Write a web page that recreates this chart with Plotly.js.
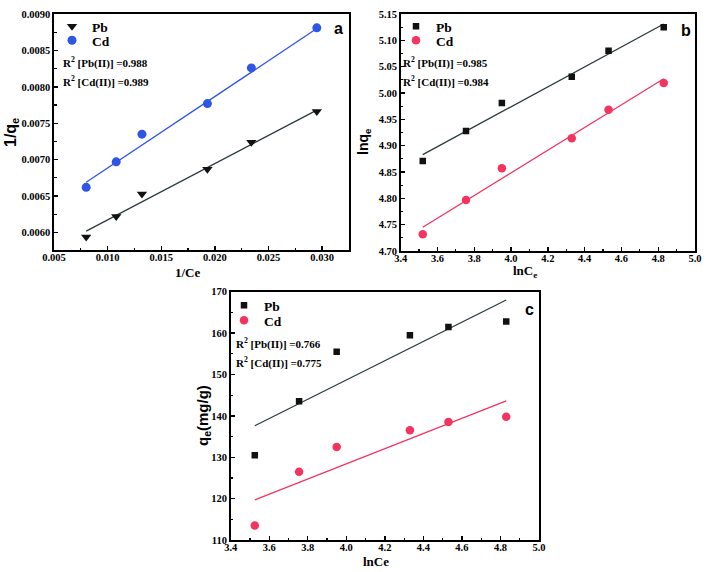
<!DOCTYPE html>
<html>
<head>
<meta charset="utf-8">
<script src="https://cdn.plot.ly/plotly-3.0.1.min.js"></script>
<style>html,body{margin:0;padding:0;background:#fff;}#chart{width:709px;height:572px;}</style>
</head>
<body>
<div id="chart"></div>
<script>
// ---- Panel a: 1/qe vs 1/Ce ----
const aX = [0.0080, 0.0108, 0.0132, 0.0193, 0.0234, 0.0295];
const aPb = [0.00594, 0.00622, 0.00653, 0.00687, 0.00724, 0.00766];
const aCd = [0.00662, 0.00697, 0.00735, 0.00777, 0.00826, 0.00881];
const aFitX = [0.0080, 0.0295];
const aPbFit = [0.00602, 0.00768];
const aCdFit = [0.00669, 0.00880];
const aR2 = ["0.988", "0.989"];

// ---- Panel b: lnqe vs lnCe ----
const bX = [3.52, 3.755, 3.95, 4.33, 4.53, 4.83];
const bPb = [4.871, 4.928, 4.981, 5.031, 5.080, 5.125];
const bCd = [4.732, 4.797, 4.857, 4.914, 4.968, 5.019];
const bFitX = [3.52, 4.83];
const bPbFit = [4.883, 5.131];
const bCdFit = [4.745, 5.027];
const bR2 = ["0.985", "0.984"];

// ---- Panel c: qe vs lnCe ----
const cX = [3.525, 3.755, 3.95, 4.33, 4.53, 4.83];
const cPb = [130.5, 143.5, 155.5, 159.5, 161.5, 162.8];
const cCd = [113.5, 126.5, 132.5, 136.5, 138.5, 139.8];
const cFitX = [3.525, 4.83];
const cPbFit = [137.6, 168.0];
const cCdFit = [119.7, 143.6];
const cR2 = ["0.766", "0.775"];

const seriesNames = ["Pb", "Cd"];
const panelLetters = ["a", "b", "c"];
const axisTitles = {
  ax: "1/Ce", ay: "1/q<sub>e</sub>",
  bx: "lnC<sub>e</sub>", by: "lnq<sub>e</sub>",
  cx: "lnCe", cy: "q<sub>e</sub>(mg/g)"
};

const BLUE = "#2f55e6";
const RED = "#f3345f";
const BLK = "#111111";
const LINEBLK = "#2b3a3f";
const SERIF = "Liberation Serif";
const SANS = "Liberation Sans";

const W = 709, H = 572;
function px(x){return x / W;}
function py(y){return 1 - y / H;}
function bold(s){return "<b>" + s + "</b>";}

const traces = [
  // panel a
  {x: aFitX, y: aPbFit, xaxis: "x", yaxis: "y", mode: "lines", line: {color: LINEBLK, width: 1.3}, showlegend: false, hoverinfo: "skip"},
  {x: aFitX, y: aCdFit, xaxis: "x", yaxis: "y", mode: "lines", line: {color: BLUE, width: 1.3}, showlegend: false, hoverinfo: "skip"},
  {x: aX, y: aPb, xaxis: "x", yaxis: "y", mode: "markers", name: bold(seriesNames[0]), legend: "legend",
   marker: {symbol: "triangle-down", size: 9, color: BLK}},
  {x: aX, y: aCd, xaxis: "x", yaxis: "y", mode: "markers", name: bold(seriesNames[1]), legend: "legend2",
   marker: {symbol: "circle", size: 9, color: BLUE}},
  // panel b
  {x: bFitX, y: bPbFit, xaxis: "x2", yaxis: "y2", mode: "lines", line: {color: LINEBLK, width: 1.3}, showlegend: false, hoverinfo: "skip"},
  {x: bFitX, y: bCdFit, xaxis: "x2", yaxis: "y2", mode: "lines", line: {color: RED, width: 1.3}, showlegend: false, hoverinfo: "skip"},
  {x: bX, y: bPb, xaxis: "x2", yaxis: "y2", mode: "markers", name: bold(seriesNames[0]), legend: "legend3",
   marker: {symbol: "square", size: 6.5, color: BLK}},
  {x: bX, y: bCd, xaxis: "x2", yaxis: "y2", mode: "markers", name: bold(seriesNames[1]), legend: "legend4",
   marker: {symbol: "circle", size: 8.5, color: RED}},
  // panel c
  {x: cFitX, y: cPbFit, xaxis: "x3", yaxis: "y3", mode: "lines", line: {color: LINEBLK, width: 1.3}, showlegend: false, hoverinfo: "skip"},
  {x: cFitX, y: cCdFit, xaxis: "x3", yaxis: "y3", mode: "lines", line: {color: RED, width: 1.3}, showlegend: false, hoverinfo: "skip"},
  {x: cX, y: cPb, xaxis: "x3", yaxis: "y3", mode: "markers", name: bold(seriesNames[0]), legend: "legend5",
   marker: {symbol: "square", size: 6.5, color: BLK}},
  {x: cX, y: cCd, xaxis: "x3", yaxis: "y3", mode: "markers", name: bold(seriesNames[1]), legend: "legend6",
   marker: {symbol: "circle", size: 8.5, color: RED}}
];

function axisBase(extra){
  return Object.assign({
    showline: true, mirror: true, linecolor: "#000", linewidth: 1.6,
    ticks: "inside", ticklen: 4, tickwidth: 1.4, tickcolor: "#000",
    showgrid: false, zeroline: false,
    tickprefix: "<b>", ticksuffix: "</b>",
    tickfont: {family: SERIF, size: 10.5, color: "#000", weight: "bold"},
    fixedrange: true
  }, extra);
}

function legendAt(x, y){
  return {x: px(x), y: py(y), xref: "paper", yref: "paper", xanchor: "left", yanchor: "top",
    bgcolor: "rgba(0,0,0,0)", borderwidth: 0, tracegroupgap: 0,
    font: {family: SERIF, size: 13.5, color: "#000"}};
}

const annotations = [];
function r2(x, y, label, val){
  annotations.push({xref: "paper", yref: "paper", x: px(x), y: py(y), xanchor: "left", yanchor: "middle",
    showarrow: false, text: "<b>R<sup>2</sup> [" + label + "] =" + val + "</b>",
    font: {family: SERIF, size: 11, color: "#000"}});
}
r2(61, 63, "Pb(II)", aR2[0]);
r2(61, 82, "Cd(II)", aR2[1]);
r2(401, 63, "Pb(II)", bR2[0]);
r2(401, 82, "Cd(II)", bR2[1]);
r2(234, 343, "Pb(II)", cR2[0]);
r2(234, 362, "Cd(II)", cR2[1]);

function letter(x, y, t){
  annotations.push({xref: "paper", yref: "paper", x: px(x), y: py(y), xanchor: "center", yanchor: "middle",
    showarrow: false, text: bold(t), font: {family: SANS, size: 16, color: "#000"}});
}
letter(338, 28, panelLetters[0]);
letter(686, 30, panelLetters[1]);
letter(529, 309, panelLetters[2]);

function atitle(x, y, t, fam, size, angle){
  annotations.push({xref: "paper", yref: "paper", x: px(x), y: py(y), xanchor: "center", yanchor: "middle",
    showarrow: false, text: bold(t), textangle: angle || 0, font: {family: fam, size: size, color: "#000"}});
}
atitle(188, 272, axisTitles.ax, SERIF, 13);
atitle(11, 133, axisTitles.ay, SANS, 16, -90);
atitle(525, 271, axisTitles.bx, SERIF, 13);
atitle(364, 142, axisTitles.by, SANS, 14, -90);
atitle(376, 561, axisTitles.cx, SERIF, 13);
atitle(203, 416, axisTitles.cy, SANS, 15, -90);

const xStand = -3;
const layout = {
  width: W, height: H,
  margin: {l: 0, r: 0, t: 0, b: 0},
  font: {family: SERIF, color: "#000"},
  paper_bgcolor: "#fff", plot_bgcolor: "rgba(0,0,0,0)",
  showlegend: true,
  xaxis: axisBase({domain: [px(54), px(349)], anchor: "y", range: [0.005, 0.0325], dtick: 0.005, tick0: 0.005,
    ticklabelstandoff: xStand,
    tickformat: ".3f", minor: {ticks: "inside", ticklen: 2.5, dtick: 0.0025, tickcolor: "#000", tickwidth: 1.2}}),
  yaxis: axisBase({domain: [py(250), py(14)], anchor: "x", range: [0.00576, 0.0090], dtick: 0.0005, tick0: 0.006,
    tickformat: ".4f", minor: {ticks: "inside", ticklen: 2.5, dtick: 0.00025, tickcolor: "#000", tickwidth: 1.2}}),
  xaxis2: axisBase({domain: [px(400.7), px(695)], anchor: "y2", range: [3.4, 5.0], dtick: 0.2, tick0: 3.4,
    ticklabelstandoff: xStand,
    tickformat: ".1f", minor: {ticks: "inside", ticklen: 2.5, dtick: 0.1, tickcolor: "#000", tickwidth: 1.2}}),
  yaxis2: axisBase({domain: [py(251), py(14)], anchor: "x2", range: [4.70, 5.15], dtick: 0.05, tick0: 4.70,
    tickformat: ".2f", minor: {ticks: "inside", ticklen: 2.5, dtick: 0.025, tickcolor: "#000", tickwidth: 1.2}}),
  xaxis3: axisBase({domain: [px(230.7), px(539)], anchor: "y3", range: [3.4, 5.0], dtick: 0.2, tick0: 3.4,
    ticklabelstandoff: xStand,
    tickformat: ".1f", minor: {ticks: "inside", ticklen: 2.5, dtick: 0.1, tickcolor: "#000", tickwidth: 1.2}}),
  yaxis3: axisBase({domain: [py(540), py(291.7)], anchor: "x3", range: [110, 170], dtick: 10, tick0: 110,
    tickformat: "d", minor: {ticks: "inside", ticklen: 2.5, dtick: 5, tickcolor: "#000", tickwidth: 1.2}}),
  legend: legendAt(52, 11),
  legend2: legendAt(52, 25),
  legend3: legendAt(396, 11),
  legend4: legendAt(396, 25),
  legend5: legendAt(224, 290),
  legend6: legendAt(224, 305),
  annotations: annotations
};

Plotly.newPlot("chart", traces, layout, {displayModeBar: false, staticPlot: true});
</script>
</body>
</html>
